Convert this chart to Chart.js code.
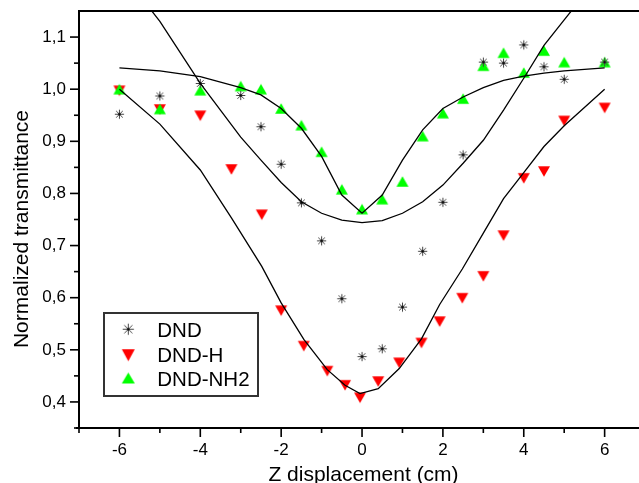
<!DOCTYPE html>
<html><head><meta charset="utf-8">
<script src="https://cdn.jsdelivr.net/npm/chart.js@4/dist/chart.umd.min.js"></script>
<style>html,body{margin:0;padding:0;background:#fff;overflow:hidden}#wrap{width:639px;height:483px;position:relative}</style>
</head><body><div id="wrap"><canvas id="c" width="639" height="483"></canvas></div>
<script>
// ---- data ----
const dndX   = [-6,-5,-4,-3,-2.5,-2,-1.5,-1,-0.5,0,0.5,1,1.5,2,2.5,3,3.5,4,4.5,5,6];
const dndY   = [0.952,0.987,1.011,0.988,0.928,0.856,0.782,0.709,0.598,0.487,0.502,0.582,0.689,0.783,0.874,1.052,1.050,1.085,1.043,1.019,1.052];
const dndHX  = [-6,-5,-4,-3.23,-2.48,-2,-1.44,-0.86,-0.42,-0.05,0.4,0.92,1.47,1.92,2.48,3,3.5,4,4.5,5,6];
const dndHY  = [0.997,0.961,0.949,0.846,0.759,0.575,0.507,0.459,0.432,0.408,0.439,0.475,0.513,0.554,0.599,0.641,0.719,0.829,0.842,0.939,0.964];
const nh2X   = [-6,-5,-4,-3,-2.5,-2,-1.5,-1,-0.5,0,0.5,1,1.5,2,2.5,3,3.5,4,4.5,5,6];
const nh2Y   = [1.000,0.962,0.998,1.006,1.000,0.963,0.931,0.880,0.808,0.770,0.789,0.823,0.910,0.954,0.982,1.045,1.070,1.032,1.074,1.052,1.052];
// fitted curves (black lines)
const fitDndY = [1.23,1.13,1.011,0.908,0.864,0.821,0.784,0.762,0.749,0.744,0.748,0.762,0.784,0.816,0.858,0.902,0.960,1.021,1.084,1.133,1.23];
const fitHY   = [1.000,0.933,0.845,0.753,0.660,0.590,0.520,0.462,0.432,0.416,0.4255,0.464,0.521,0.587,0.655,0.724,0.790,0.840,0.890,0.930,1.000];
const fitNh2Y = [1.041,1.035,1.024,1.003,0.989,0.963,0.925,0.871,0.797,0.762,0.797,0.864,0.922,0.963,0.985,1.003,1.017,1.025,1.031,1.035,1.041];
// axes
const xTickVals  = [-6,-4,-2,0,2,4,6];
const xMinorVals = [-7,-5,-3,-1,1,3,5];
const yTickVals  = [0.4,0.5,0.6,0.7,0.8,0.9,1.0,1.1];
const yMinorVals = [0.35,0.45,0.55,0.65,0.75,0.85,0.95,1.05];
const seriesNames = ['DND','DND-H','DND-NH2'];
const xTitle = 'Z displacement (cm)';
const yTitle = 'Normalized transmittance';

const FONT = '"Liberation Sans", Arial, Helvetica, sans-serif';
const RED = '#ff0000', GREEN = '#00ff00';

function pts(xs, ys){ return xs.map((v,i)=>({x:v, y:ys[i]})); }

function triCanvas(color, w, h, down){
  const c = document.createElement('canvas');
  c.width = Math.ceil(w)+2; c.height = Math.ceil(h)+2;
  const g = c.getContext('2d');
  g.fillStyle = color; g.beginPath();
  const ox = (c.width - w)/2, oy = (c.height - h)/2;
  if (down){ g.moveTo(ox,oy); g.lineTo(ox+w,oy); g.lineTo(ox+w/2,oy+h); }
  else { g.moveTo(ox+w/2,oy); g.lineTo(ox+w,oy+h); g.lineTo(ox,oy+h); }
  g.closePath(); g.fill();
  return c;
}
function starCanvas(r){
  const s = Math.ceil(2*r)+3;
  const c = document.createElement('canvas'); c.width = s; c.height = s;
  const g = c.getContext('2d'); const m = s/2;
  g.strokeStyle = '#444'; g.lineWidth = 1;
  g.beginPath();
  g.moveTo(m, m-r); g.lineTo(m, m+r);
  g.moveTo(m-r, m); g.lineTo(m+r, m);
  const d = r*0.72;
  g.moveTo(m-d, m-d); g.lineTo(m+d, m+d);
  g.moveTo(m-d, m+d); g.lineTo(m+d, m-d);
  g.stroke();
  g.fillStyle = '#000'; g.beginPath(); g.arc(m, m, 1.1, 0, Math.PI*2); g.fill();
  return c;
}
const starPt = starCanvas(4.6), downPt = triCanvas(RED, 12, 10.5, true), upPt = triCanvas(GREEN, 12, 10.5, false);
const starLg = starCanvas(5.6), downLg = triCanvas(RED, 13, 12, true), upLg = triCanvas(GREEN, 13, 11, false);

const framePlugin = {
  id: 'frame',
  afterDraw(chart){
    const {ctx, chartArea: a, scales: {x, y}} = chart;
    const L = Math.round(a.left), R = ctx.canvas.width, T = Math.round(a.top), B = Math.round(a.bottom);
    ctx.save();
    ctx.fillStyle = '#000';
    // frame: top edge, left axis, bottom axis
    ctx.fillRect(L - 1, T - 1, R - L + 1, 2);
    ctx.fillRect(L - 1, T - 1, 2, B - T + 2);
    ctx.fillRect(L - 3, B - 1, R - L + 3, 2);
    // ticks
    xTickVals.forEach(v=>{ const p = x.getPixelForValue(v); ctx.fillRect(p - 0.8, B, 1.6, 9); });
    xMinorVals.forEach(v=>{ const p = x.getPixelForValue(v); ctx.fillRect(p - 0.8, B, 1.6, 5); });
    yTickVals.forEach(v=>{ const p = y.getPixelForValue(v); ctx.fillRect(L - 9, p - 0.8, 9, 1.6); });
    yMinorVals.forEach(v=>{ const p = y.getPixelForValue(v); ctx.fillRect(L - 5, p - 0.8, 5, 1.6); });
    // axis titles
    ctx.font = '21px ' + FONT;
    ctx.textAlign = 'center'; ctx.textBaseline = 'alphabetic';
    ctx.fillText(xTitle, 363.5, 481);
    ctx.save();
    ctx.translate(27.5, 229); ctx.rotate(-Math.PI/2);
    ctx.fillText(yTitle, 0, 0);
    ctx.restore();
    // legend
    ctx.lineWidth = 2; ctx.strokeStyle = '#333';
    ctx.strokeRect(104, 313, 154, 83);
    const icons = [starLg, downLg, upLg];
    const iconY = [329.2, 355.2, 378];
    const baseY = [336.7, 361.7, 386];
    ctx.font = '20.5px ' + FONT; ctx.textAlign = 'left';
    seriesNames.forEach((n,i)=>{
      const ic = icons[i];
      ctx.drawImage(ic, 128.3 - ic.width/2, iconY[i] - ic.height/2);
      ctx.fillText(n, 157.3, baseY[i]);
    });
    ctx.restore();
  }
};

const lineDs = (xs, ys) => ({ type:'scatter', data: pts(xs, ys), showLine:true, borderColor:'#000', borderWidth:1.3,
  pointRadius:0, pointHoverRadius:0, fill:false, tension:0, order:0 });

const noPad = s => { s.paddingTop = 0; s.paddingBottom = 0; s.paddingLeft = 0; s.paddingRight = 0; };

new Chart(document.getElementById('c'), {
  type: 'scatter',
  data: { datasets: [
    lineDs(dndX, fitDndY),
    lineDs(dndHX, fitHY),
    lineDs(nh2X, fitNh2Y),
    { label: seriesNames[0], data: pts(dndX, dndY), pointStyle: starPt, pointRadius: 5, showLine:false, order: 1 },
    { label: seriesNames[2], data: pts(nh2X, nh2Y), pointStyle: upPt, pointRadius: 5, showLine:false, order: 2 },
    { label: seriesNames[1], data: pts(dndHX, dndHY), pointStyle: downPt, pointRadius: 5, showLine:false, order: 3 }
  ]},
  options: {
    responsive: false, animation: false, devicePixelRatio: 1,
    layout: { autoPadding: false, padding: { top: 11, left: 0, right: 0, bottom: 0 } },
    plugins: { legend: { display: false }, tooltip: { enabled: false } },
    events: [],
    scales: {
      x: { type: 'linear', min: -7, max: 6.85,
        grid: { display: false, drawTicks: false }, border: { display: false },
        afterBuildTicks: s => { s.ticks = xTickVals.map(v => ({ value: v })); },
        afterFit: s => { s.height = 55; noPad(s); },
        ticks: { color: '#000', padding: 12, font: { family: FONT, size: 17 }, maxRotation: 0, callback: v => String(v) } },
      y: { type: 'linear', min: 0.35, max: 1.15,
        grid: { display: false, drawTicks: false }, border: { display: false },
        afterBuildTicks: s => { s.ticks = yTickVals.map(v => ({ value: v })); },
        afterFit: s => { s.width = 79; noPad(s); },
        ticks: { color: '#000', padding: 13, font: { family: FONT, size: 17 }, callback: v => v.toFixed(1).replace('.', ',') } }
    }
  },
  plugins: [framePlugin]
});
</script></body></html>
